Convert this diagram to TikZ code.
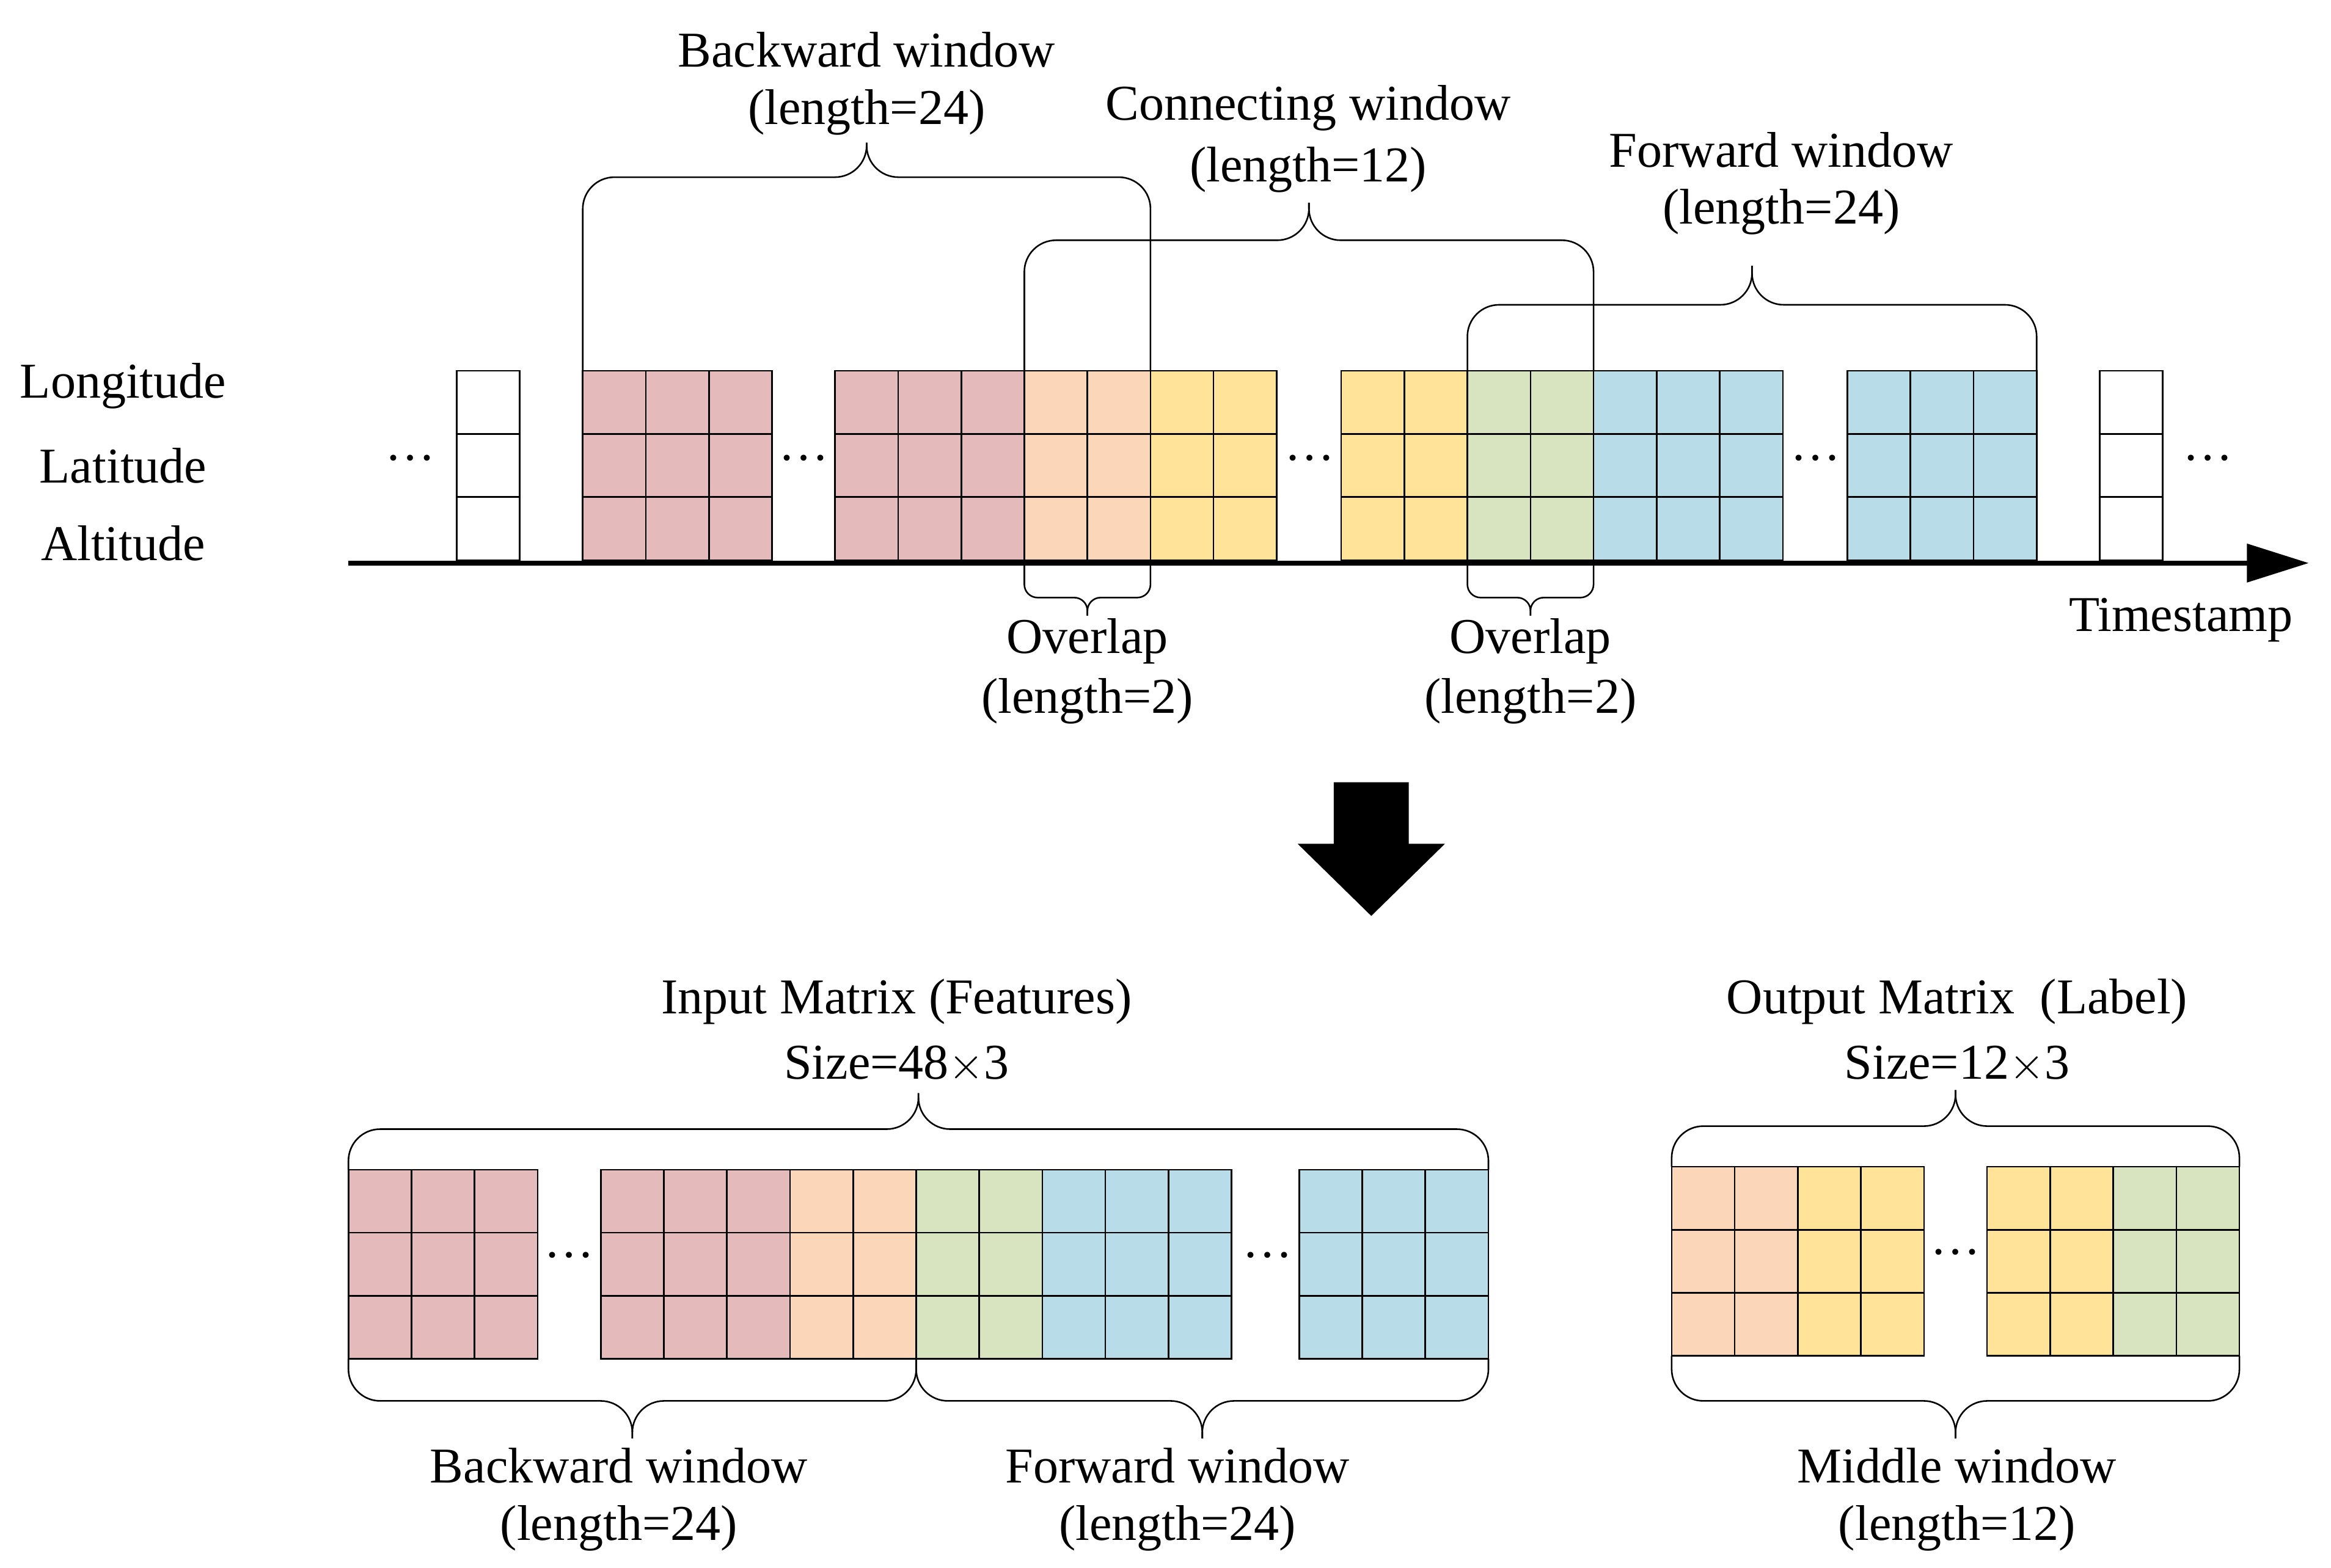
\documentclass[tikz,border=0pt]{standalone}
\usepackage{fontspec}
\setmainfont{Liberation Serif}
\definecolor{cpink}{HTML}{E5BABA}
\definecolor{cpeach}{HTML}{FBD6B8}
\definecolor{cyel}{HTML}{FEE398}
\definecolor{cgreen}{HTML}{D8E3C0}
\definecolor{cblue}{HTML}{B8DDE8}
\tikzset{
 txt/.style={font=\fontsize{19}{22}\selectfont, inner sep=0pt},
 cell/.style={draw=black, line width=0.6pt},
 br/.style={line width=0.6pt, rounded corners=12pt},
 brs/.style={line width=0.6pt, rounded corners=5pt},
}
% \blk{x}{ytop}{ncols}{color}
\newcommand\blk[4]{\foreach \i in {1,...,#3}{\foreach \j in {0,1,2}{
 \draw[cell, fill=#4] ({#1+(\i-1)*42},{#2+\j*42}) rectangle ++(42,42);}}}
% \brc{x1}{x2}{yend}{ybar}{ypeak}{style}
\newcommand\brc[6]{
 \draw[#6] (#1,#3)--(#1,#4)--({(#1+#2)/2},#4)--({(#1+#2)/2},#5);
 \draw[#6] (#2,#3)--(#2,#4)--({(#1+#2)/2},#4)--({(#1+#2)/2},#5);}
\begin{document}
\begin{tikzpicture}[x=0.02cm,y=-0.02cm]
\useasboundingbox (0,0) rectangle (1552,1044);
% top row
\blk{304}{247}{1}{white}
\blk{388}{247}{3}{cpink}
\blk{556}{247}{3}{cpink}
\blk{682}{247}{2}{cpeach}
\blk{766}{247}{2}{cyel}
\blk{893}{247}{2}{cyel}
\blk{977}{247}{2}{cgreen}
\blk{1061}{247}{3}{cblue}
\blk{1230}{247}{3}{cblue}
\blk{1398}{247}{1}{white}
\foreach \x/\n in {273/d1,535/d2,872/d3,1209/d4,1470/d5}{\node[txt] (\n) at (\x,305) {\dots};}
\node[txt] (lon) at (82,257) {Longitude};
\node[txt] (lat) at (82,310) {Latitude};
\node[txt] (alt) at (82,362) {Altitude};
\coordinate (a0) at (232,375); \coordinate (a1) at (1537,375);
\draw[line width=1.8pt] (a0)--(1500,375);
\fill (1537,375)--(1496,362)--(1496,388)--cycle;
\node[txt] (ts) at (1452,413) {Timestamp};
% top braces
\brc{388}{766}{247}{118}{95}{br}
\brc{682}{1061}{247}{160}{135}{br}
\brc{977}{1356}{247}{203}{177}{br}
\brc{682}{766}{375}{398}{410}{brs}
\brc{977}{1061}{375}{398}{410}{brs}
\node[txt] (bw1) at (577,33) {Backward window};
\node[txt] (bw2) at (577,75) {(length=24)};
\node[txt] (cw1) at (871,72) {Connecting window};
\node[txt] (cw2) at (871,113) {(length=12)};
\node[txt] (fw1) at (1186,100) {Forward window};
\node[txt] (fw2) at (1186,141) {(length=24)};
\node[txt] (ov1) at (724,427) {Overlap};
\node[txt] (ov2) at (724,467) {(length=2)};
\node[txt] (ov3) at (1019,427) {Overlap};
\node[txt] (ov4) at (1019,467) {(length=2)};
% big arrow
\fill (888,521)--(938,521)--(938,562)--(962,562)--(913,610)--(864,562)--(888,562)--cycle;
% bottom input
\blk{232}{779}{3}{cpink}
\blk{400}{779}{3}{cpink}
\blk{526}{779}{2}{cpeach}
\blk{610}{779}{2}{cgreen}
\blk{694}{779}{3}{cblue}
\blk{865}{779}{3}{cblue}
\node[txt] (d6) at (379,836) {\dots};
\node[txt] (d7) at (844,836) {\dots};
\brc{232}{991}{779}{752}{728}{br}
\brc{232}{610}{905}{933}{958}{br}
\brc{610}{991}{905}{933}{958}{br}
\node[txt] (im1) at (597,667) {Input Matrix (Features)};
\node[txt] (im2) at (597,709) {Size=48$\times$3};
\node[txt] (bb1) at (412,976) {Backward window};
\node[txt] (bb2) at (412,1018) {(length=24)};
\node[txt] (fb1) at (784,976) {Forward window};
\node[txt] (fb2) at (784,1018) {(length=24)};
% output
\blk{1113}{777}{2}{cpeach}
\blk{1197}{777}{2}{cyel}
\blk{1323}{777}{2}{cyel}
\blk{1407}{777}{2}{cgreen}
\node[txt] (d8) at (1302,834) {\dots};
\brc{1113}{1491}{777}{750}{726}{br}
\brc{1113}{1491}{903}{933}{958}{br}
\node[txt] (om1) at (1303,667) {Output Matrix\ \ (Label)};
\node[txt] (om2) at (1303,709) {Size=12$\times$3};
\node[txt] (mw1) at (1303,976) {Middle window};
\node[txt] (mw2) at (1303,1018) {(length=12)};
\end{tikzpicture}
\end{document}
